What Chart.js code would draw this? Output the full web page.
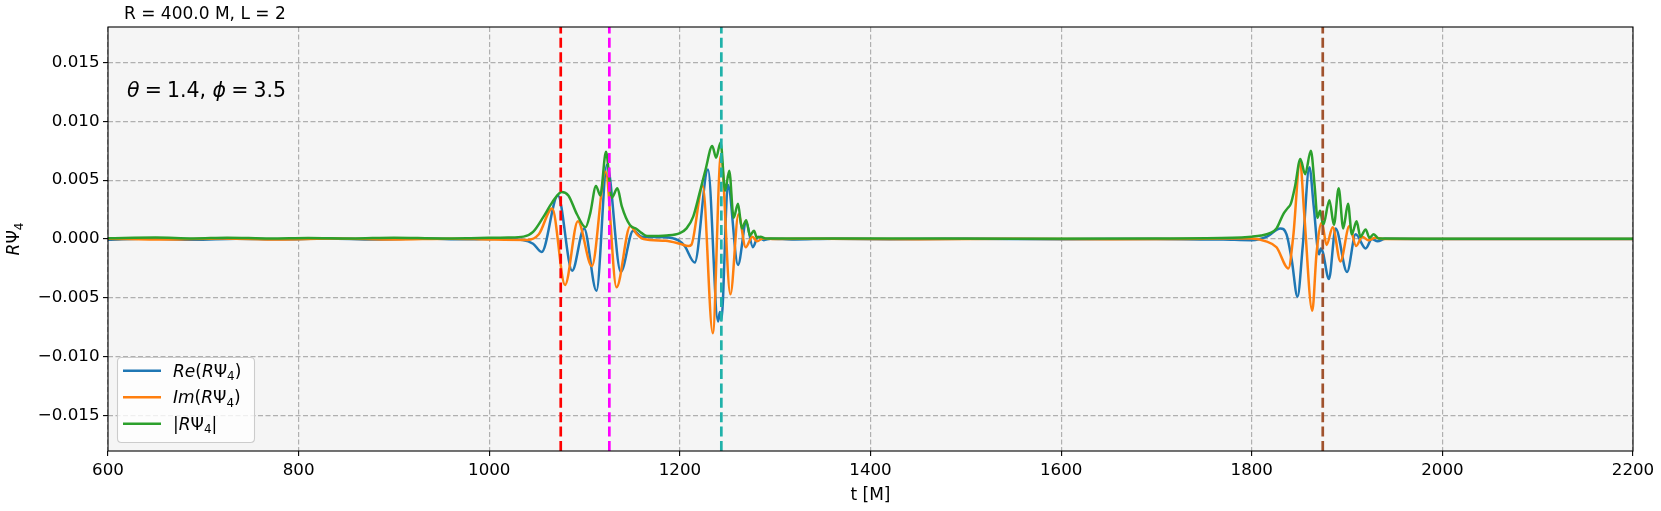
<!DOCTYPE html>
<html>
<head>
<meta charset="utf-8">
<title>RΨ4</title>
<script src="https://cdn.jsdelivr.net/npm/chart.js@4.4.1/dist/chart.umd.min.js"></script>
<style>
  html, body { margin: 0; padding: 0; background: #fff; }
  canvas { display: block; }
</style>
</head>
<body>
<canvas id="grafico" width="1661" height="511"></canvas>
<script>
// valores: [t, valor]
const reSeries = [
  [600, -0.00006], [645, 0.00004], [690, -0.00007], [735, 0.00003], [780, -0.00003], [830, 0.00005],
  [880, -0.00004], [930, 0.00004], [975, -0.00003], [1010, 0.00002], [1035, -0.00008], [1046, -0.0004],
  [1055, -0.0011], [1072, 0.0037], [1087, -0.0027], [1099.5, 0.0009], [1112.5, -0.0044], [1123.5, 0.0063],
  [1138, -0.0028], [1151, 0.0007], [1160, 0.0002], [1185, 0.00015], [1198, -0.0001], [1205, -0.0006],
  [1215.5, -0.0020], [1229.5, 0.0059], [1240, -0.0070], [1242, -0.0062], [1243.5, -0.0069], [1250.4, 0.0046],
  [1261, -0.0022], [1269.6, 0.0014], [1276.6, -0.0007], [1282, 0.0002], [1288, -0.0001], [1295, 0.00003],
  [1320, -0.00004], [1360, 0.00002], [1420, -0.00002], [1500, 0.00002], [1600, -0.00002], [1700, 0.00001],
  [1770, -0.00005], [1800, -0.0001], [1816, 0.0002], [1830, 0.0009], [1836.5, 0.0004], [1842, -0.0018],
  [1848, -0.0049], [1853.5, -0.0006], [1860.5, 0.0061], [1865, 0.0028], [1870.5, -0.0013], [1872.5, -0.0008],
  [1874.5, -0.0011], [1881, -0.0034], [1888, 0.0009], [1900, -0.0028], [1909, 0.0004], [1919.5, -0.0008],
  [1926, 0.0], [1932, -0.0002], [1940, 0.00002], [2000, -0.00001], [2200, 0]
];

const imSeries = [
  [600, 0.00003], [660, -0.00005], [720, 0.00005], [780, -0.00004], [840, 0.00004], [900, -0.00005],
  [960, 0.00003], [1000, -0.00004], [1040, -0.00008], [1052, 0.0004], [1066, 0.0026], [1079.5, -0.0039],
  [1093, 0.0015], [1107.7, -0.0023], [1122, 0.0057], [1133.5, -0.0041], [1148, 0.0011], [1155, 0.0004],
  [1162, 0.0], [1185, -0.00015], [1200, -0.0004], [1209, -0.0006], [1212, -0.0005], [1224, 0.0045],
  [1234.5, -0.0080], [1243, 0.0071], [1253, -0.0047], [1261.5, 0.0021], [1269, -0.0007], [1276, 0.0002],
  [1281, -0.0002], [1287, 0.00005], [1300, 0.0], [1350, 0.00003], [1450, -0.00002], [1550, 0.00002],
  [1650, -0.00002], [1750, 0.00002], [1800, 0.00005], [1815, -0.0002], [1826, -0.0007], [1838.5, -0.0025],
  [1843.5, 0.0002], [1850.7, 0.0066], [1855, 0.0022], [1863.5, -0.0061], [1868, -0.0012], [1873.5, 0.0014],
  [1878.5, -0.0005], [1885, 0.0010], [1893, -0.0019], [1902.5, 0.0011], [1909.5, -0.0006], [1916, 0.0002],
  [1922, -0.0001], [1930, 0.0001], [1940, 0.0], [2200, 0]
];

const absSeries = [
  [600, 0.00007], [650, 0.00012], [690, 0.00005], [725, 0.00011], [770, 0.00004], [810, 0.00008],
  [855, 0.00004], [900, 0.00011], [950, 0.00005], [990, 0.00009], [1020, 0.00012], [1036, 0.0002],
  [1046, 0.0006], [1057, 0.0019], [1066, 0.0031], [1076, 0.0040], [1083, 0.0037], [1092, 0.0021],
  [1101, 0.0010], [1106, 0.0022], [1112, 0.0045], [1116.5, 0.0037], [1122.5, 0.0074], [1128.5, 0.0035],
  [1134.5, 0.0043], [1139, 0.0028], [1147.5, 0.0012], [1154.5, 0.00085], [1160, 0.0005], [1166, 0.00025],
  [1186, 0.0003], [1200, 0.0005], [1207, 0.0009], [1214, 0.0019], [1221, 0.0040], [1227, 0.0059],
  [1234, 0.0079], [1238, 0.0069], [1242.7, 0.0082], [1247.5, 0.0041], [1251.8, 0.0058], [1256.4, 0.0018],
  [1261, 0.0030], [1265, 0.0009], [1269.6, 0.0016], [1273.5, 0.0003], [1277.7, 0.0007], [1281, 0.0001],
  [1284.7, 0.0002], [1290, 0.00005], [1400, 0.00004], [1550, 0.00003], [1700, 0.00005], [1780, 0.0001],
  [1800, 0.0002], [1810, 0.0003], [1819, 0.0005], [1826, 0.0009], [1833, 0.0021], [1837.5, 0.0026],
  [1841, 0.0030], [1845.5, 0.0045], [1851, 0.0068], [1856, 0.0055], [1862, 0.0075], [1866, 0.0045],
  [1869, 0.0018], [1871.7, 0.0024], [1875, 0.0012], [1881.5, 0.0033], [1886.2, 0.0012], [1891.2, 0.0043],
  [1896, 0.0009], [1901, 0.0030], [1905, 0.0004], [1910, 0.0015], [1914, 0.0002], [1919.5, 0.0008],
  [1923.5, 0.0001], [1928, 0.0004], [1933, 0.00005], [2000, 0.00003], [2200, 0.00002]
];

const markerTimes = [1075, 1126, 1243.5, 1874.5];
const markerColors = ['#ff0000', '#ff00ff', '#20b2aa', '#a0522d'];

const xTickValues = [600, 800, 1000, 1200, 1400, 1600, 1800, 2000, 2200];
const xTickLabels = ['600', '800', '1000', '1200', '1400', '1600', '1800', '2000', '2200'];
const yTickValues = [-0.015, -0.010, -0.005, 0.000, 0.005, 0.010, 0.015];
const yTickLabels = ['\u22120.015', '\u22120.010', '\u22120.005', '0.000', '0.005', '0.010', '0.015'];

const tMin = 600, tMax = 2200, yMin = -0.018, yMax = 0.018;

const titleText = 'R = 400.0 M, L = 2';
const xTitle = 't [M]';
const seriesColors = ['#1f77b4', '#ff7f0e', '#2ca02c'];
// etiquetas en trozos: it = cursiva, sub = subindice
const legendRuns = [
  [{t: 'Re', it: true}, {t: '('}, {t: 'R', it: true}, {t: 'Ψ'}, {t: '4', sub: true}, {t: ')'}],
  [{t: 'Im', it: true}, {t: '('}, {t: 'R', it: true}, {t: 'Ψ'}, {t: '4', sub: true}, {t: ')'}],
  [{t: '|'}, {t: 'R', it: true}, {t: 'Ψ'}, {t: '4', sub: true}, {t: '|'}]
];
const yTitleRuns = [{t: 'R', it: true}, {t: 'Ψ'}, {t: '4', sub: true}];
const noteRuns = [{t: 'θ', it: true}, {t: '\u2005=\u20051.4, '}, {t: 'ϕ', it: true}, {t: '\u2005=\u20053.5'}];

const FONT = '"DejaVu Sans"';

function runWidth(ctx, runs, size) {
  let w = 0;
  runs.forEach(r => {
    const s = r.sub ? size * 0.7 : size;
    ctx.font = (r.it ? 'italic ' : '') + s + 'px ' + FONT;
    w += ctx.measureText(r.t).width;
  });
  return w;
}

function drawRuns(ctx, runs, x, y, size) {
  let cx = x;
  runs.forEach(r => {
    const s = r.sub ? size * 0.7 : size;
    ctx.font = (r.it ? 'italic ' : '') + s + 'px ' + FONT;
    ctx.fillText(r.t, cx, y + (r.sub ? size * 0.22 : 0));
    cx += ctx.measureText(r.t).width;
  });
}

function roundRect(ctx, x, y, w, h, r) {
  ctx.beginPath();
  ctx.moveTo(x + r, y);
  ctx.lineTo(x + w - r, y);
  ctx.quadraticCurveTo(x + w, y, x + w, y + r);
  ctx.lineTo(x + w, y + h - r);
  ctx.quadraticCurveTo(x + w, y + h, x + w - r, y + h);
  ctx.lineTo(x + r, y + h);
  ctx.quadraticCurveTo(x, y + h, x, y + h - r);
  ctx.lineTo(x, y + r);
  ctx.quadraticCurveTo(x, y, x + r, y);
  ctx.closePath();
}

const decoraciones = {
  id: 'decoraciones',
  beforeDraw(chart) {
    const ctx = chart.ctx;
    const a = chart.chartArea;
    ctx.save();
    ctx.fillStyle = '#ffffff';
    ctx.fillRect(0, 0, chart.width, chart.height);
    ctx.fillStyle = '#f5f5f5';
    ctx.fillRect(a.left, a.top, a.right - a.left, a.bottom - a.top);
    ctx.restore();
  },
  afterDatasetsDraw(chart) {
    const ctx = chart.ctx;
    const a = chart.chartArea;
    ctx.save();

    // marco
    ctx.strokeStyle = '#000';
    ctx.lineWidth = 1.1;
    ctx.strokeRect(a.left, a.top, a.right - a.left, a.bottom - a.top);

    ctx.fillStyle = '#000';
    ctx.textBaseline = 'alphabetic';

    // titulo
    ctx.font = '17px ' + FONT;
    ctx.textAlign = 'left';
    ctx.fillText(titleText, 124, 19);

    // anotacion
    drawRuns(ctx, noteRuns, 127, 97, 20.5);

    // titulo eje x
    ctx.font = '17px ' + FONT;
    ctx.textAlign = 'center';
    ctx.fillText(xTitle, (a.left + a.right) / 2, 500);
    ctx.textAlign = 'left';

    // titulo eje y
    ctx.save();
    ctx.translate(19, (a.top + a.bottom) / 2);
    ctx.rotate(-Math.PI / 2);
    const yw = runWidth(ctx, yTitleRuns, 17);
    drawRuns(ctx, yTitleRuns, -yw / 2, 0, 17);
    ctx.restore();

    // leyenda
    ctx.fillStyle = 'rgba(255,255,255,0.8)';
    ctx.strokeStyle = '#cccccc';
    ctx.lineWidth = 1.1;
    roundRect(ctx, 117.5, 357.5, 137, 85, 4);
    ctx.fill();
    ctx.stroke();
    legendRuns.forEach((runs, i) => {
      const ly = 370.7 + i * 26.5;
      ctx.strokeStyle = seriesColors[i];
      ctx.lineWidth = 2.5;
      ctx.beginPath();
      ctx.moveTo(123, ly);
      ctx.lineTo(161, ly);
      ctx.stroke();
      ctx.fillStyle = '#000';
      drawRuns(ctx, runs, 173, ly + 6, 17);
    });

    ctx.restore();
  }
};

document.addEventListener('DOMContentLoaded', function() {
  const ctx = document.getElementById('grafico').getContext('2d');

  const curva = (label, data, color, order) => ({
    label: label,
    data: data,
    borderColor: color,
    borderWidth: 2.5,
    pointRadius: 0,
    fill: false,
    tension: 0.4,
    cubicInterpolationMode: 'monotone',
    order: order
  });

  const marcadores = markerTimes.map((t, i) => ({
    label: 'marca ' + i,
    data: [[t, yMin], [t, yMax]],
    borderColor: markerColors[i],
    borderWidth: 2.7,
    borderDash: [10, 4.4],
    pointRadius: 0,
    fill: false,
    tension: 0,
    order: 0
  }));

  new Chart(ctx, {
    type: 'line',
    data: {
      datasets: [
        curva('Re', reSeries, seriesColors[0], 3),
        curva('Im', imSeries, seriesColors[1], 2),
        curva('Abs', absSeries, seriesColors[2], 1)
      ].concat(marcadores)
    },
    options: {
      responsive: false,
      animation: false,
      devicePixelRatio: 1,
      layout: { padding: { top: 27, right: 28, left: 0, bottom: 0 } },
      plugins: {
        legend: { display: false },
        title: { display: false },
        tooltip: { enabled: false }
      },
      scales: {
        x: {
          type: 'linear',
          min: tMin,
          max: tMax,
          afterBuildTicks: axis => { axis.ticks = xTickValues.map(v => ({ value: v })); },
          afterFit: axis => { axis.height = 60; },
          ticks: {
            callback: (v, i) => xTickLabels[i],
            font: { family: 'DejaVu Sans', size: 16.7 },
            color: '#000',
            padding: 5,
            maxRotation: 0,
            autoSkip: false
          },
          grid: {
            color: '#b0b0b0',
            lineWidth: 1.2,
            tickColor: '#000',
            tickLength: 5,
            tickWidth: 1.1
          },
          border: { display: false, dash: [5, 2.5] }
        },
        y: {
          type: 'linear',
          min: yMin,
          max: yMax,
          afterBuildTicks: axis => { axis.ticks = yTickValues.map(v => ({ value: v })); },
          afterFit: axis => { axis.width = 108; },
          ticks: {
            callback: (v, i) => yTickLabels[i],
            font: { family: 'DejaVu Sans', size: 16.7 },
            color: '#000',
            padding: 3.5,
            autoSkip: false
          },
          grid: {
            color: '#b0b0b0',
            lineWidth: 1.2,
            tickColor: '#000',
            tickLength: 5,
            tickWidth: 1.1
          },
          border: { display: false, dash: [5, 2.5] }
        }
      }
    },
    plugins: [decoraciones]
  });
});
</script>
</body>
</html>
